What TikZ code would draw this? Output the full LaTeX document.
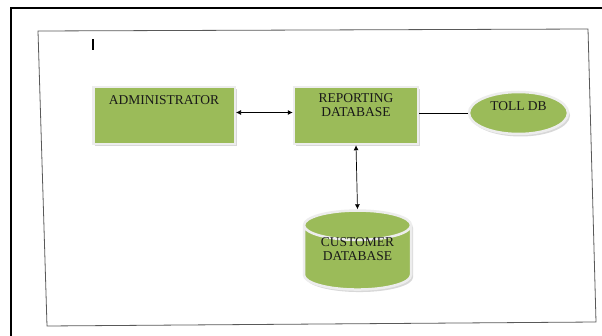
\documentclass[tikz,border=0pt]{standalone}
\usepackage{fontspec}
\setmainfont{Liberation Serif}
\usetikzlibrary{shapes.geometric,arrows.meta,shadows}
\definecolor{boxgreen}{HTML}{9BBB59}
\definecolor{edgegray}{HTML}{EDEDED}
\begin{document}
\begin{tikzpicture}[y=1pt, x=1pt,
    greenbox/.style={rectangle, fill=boxgreen, draw=edgegray, line width=2.5pt,
      drop shadow={shadow xshift=2pt, shadow yshift=-2.5pt, fill=black!30},
      inner sep=0pt},
    boxtext/.style={font=\fontsize{13.5}{14}\selectfont, text=black!90, align=center},
    dbellipse/.style={ellipse, fill=boxgreen, draw=edgegray, line width=2.5pt,
      drop shadow={shadow xshift=2pt, shadow yshift=-2.5pt, fill=black!30},
      minimum width=99pt, minimum height=42pt, inner sep=0pt},
    dbcyl/.style={cylinder, shape border rotate=90, aspect=0.4, fill=boxgreen,
      draw=edgegray, line width=2.5pt,
      drop shadow={shadow xshift=2pt, shadow yshift=-2.5pt, fill=black!30},
      minimum width=107pt, minimum height=79pt, inner sep=0pt},
    dblarrow/.style={{Latex[length=5pt,width=5pt]}-{Latex[length=5pt,width=5pt]}, line width=0.7pt}]
    \clip (0,0) rectangle (602,335);
    \fill[white] (0,0) rectangle (602,335);
    \draw[line width=1.3pt] (11,-5) -- (11,327) -- (610,327);
    \draw[black!65, line width=0.8pt] (38,304) -- (588,306) -- (596,13) -- (47,9) -- cycle;
    \draw[line width=1.6pt] (93,285) -- (93,296);

    \node[greenbox, minimum width=141.5pt, minimum height=57pt] (admin) at (164,219.5) {};
    \node[boxtext, anchor=north] (admintext) at ([yshift=-6pt]admin.north) {ADMINISTRATOR};

    \node[greenbox, minimum width=124pt, minimum height=57pt] (report) at (356,219.5) {};
    \node[boxtext, anchor=north] (reporttext) at ([yshift=-4pt]report.north) {REPORTING\\DATABASE};

    \node[dbellipse, boxtext, text depth=13pt] (tolldb) at (518.5,222) {TOLL DB};

    % phantom text keeps the cylinder ends round
    \node[dbcyl, boxtext] (custdb) at (357.5,77) {\phantom{CUSTOMER}\\\phantom{DATABASE}};
    \node[boxtext] (custtext) at ([yshift=8.5pt]custdb.center) {CUSTOMER\\DATABASE};

    \draw[dblarrow] ([yshift=3pt]admin.east) -- ([yshift=3pt]report.west);
    \draw[line width=0.7pt] ([yshift=2.5pt]report.east) -- (tolldb.west);
    \draw[dblarrow] (report.south) -- (custdb.north);
  \end{tikzpicture}
\end{document}
